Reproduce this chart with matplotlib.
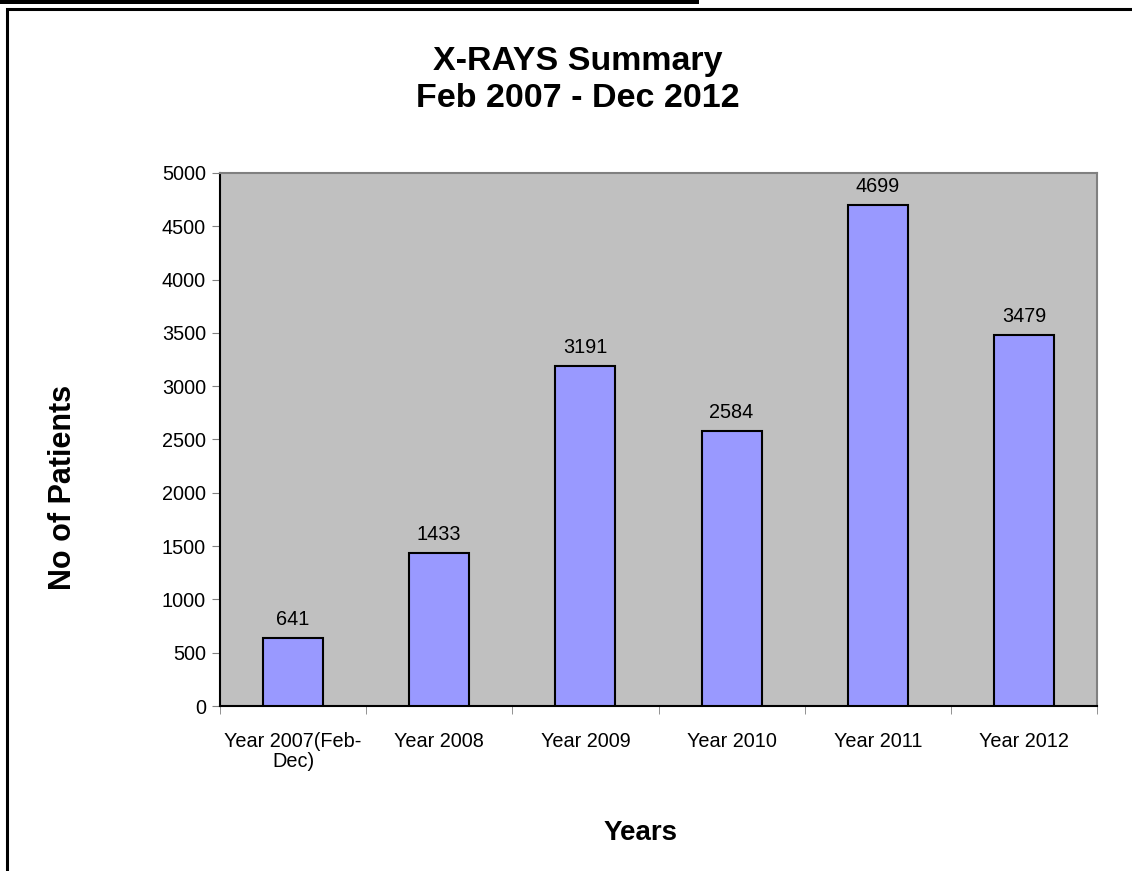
import matplotlib
matplotlib.use('Agg')
import matplotlib.pyplot as plt
from matplotlib.patches import Rectangle

# chart data
categories = ['Year 2007(Feb-\nDec)', 'Year 2008', 'Year 2009', 'Year 2010', 'Year 2011', 'Year 2012']
patients = [641, 1433, 3191, 2584, 4699, 3479]
y_ticks = [0, 500, 1000, 1500, 2000, 2500, 3000, 3500, 4000, 4500, 5000]

plt.rcParams['font.family'] = ['Liberation Sans', 'DejaVu Sans']

W, H = 1132, 871
fig = plt.figure(figsize=(W / 100, H / 100), dpi=100)

# outer chart frame and dark strip along the top
fig.patches.append(Rectangle((7 / W, -0.05), 1.2, 1 - 9 / H + 0.05, transform=fig.transFigure,
                             fill=False, edgecolor='black', linewidth=2.2))
fig.patches.append(Rectangle((0, 1 - 4.5 / H), 699 / W, 4.5 / H, transform=fig.transFigure,
                             facecolor='black', edgecolor='none'))

# plot area in pixels: left 220, right 1097, top 173, bottom 706
ax = fig.add_axes([220 / W, 1 - 706 / H, (1097 - 220) / W, (706 - 173) / H])
ax.set_facecolor('#c0c0c0')

x = list(range(len(categories)))
ax.bar(x, patients, width=0.41, color='#9999ff', edgecolor='black', linewidth=1.5, zorder=3)
for xi, v in zip(x, patients):
    ax.annotate(str(v), (xi, v), xytext=(0, 6.5), textcoords='offset points',
                ha='center', va='bottom', fontsize=14.3)

ax.set_xlim(-0.5, len(categories) - 0.5)
ax.set_ylim(0, 5000)
ax.set_yticks(y_ticks)
ax.tick_params(axis='y', labelsize=14.3, length=6, color='#808080', pad=4)

# category labels centred, ticks at boundaries
ax.set_xticks(x)
ax.set_xticklabels(categories, fontsize=14.3, linespacing=1.05)
ax.tick_params(axis='x', which='major', length=0, pad=19)
ax.set_xticks([i - 0.5 for i in range(len(categories) + 1)], minor=True)
ax.tick_params(axis='x', which='minor', length=6, color='#808080')

ax.spines['left'].set_color('black')
ax.spines['bottom'].set_color('black')
ax.spines['top'].set_color('#808080')
ax.spines['right'].set_color('#808080')
for s in ax.spines.values():
    s.set_linewidth(1.5)

fig.text(578 / W, 1 - 70 / H, 'X-RAYS Summary', ha='center', va='baseline',
         fontsize=24.5, fontweight='bold')
fig.text(578 / W, 1 - 107 / H, 'Feb 2007 - Dec 2012', ha='center', va='baseline',
         fontsize=24.5, fontweight='bold')
fig.text(641 / W, 1 - 833 / H, 'Years', ha='center', va='center', fontsize=20, fontweight='bold')
fig.text(63 / W, 1 - 487 / H, 'No of Patients', ha='center', va='center', rotation=90,
         fontsize=22, fontweight='bold')

fig.savefig('out.png', dpi=100)
